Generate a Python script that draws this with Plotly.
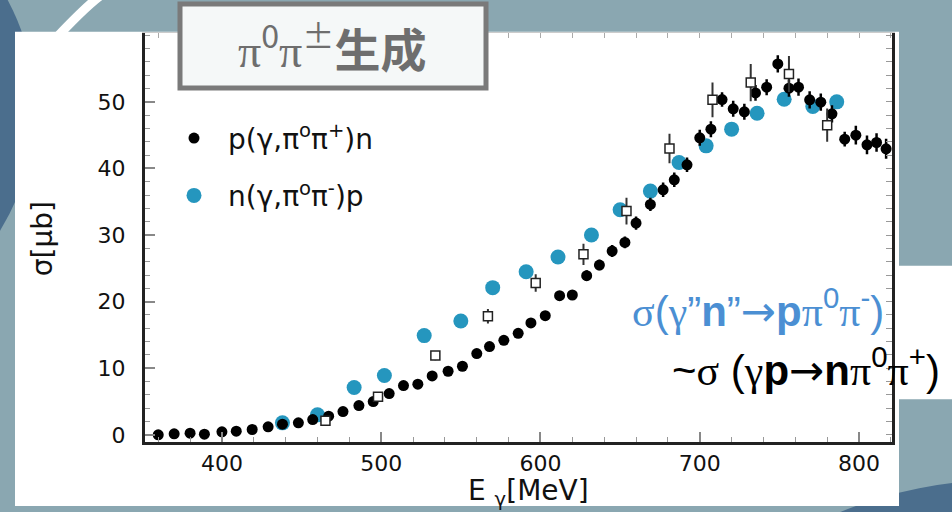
import plotly.graph_objects as go

# ---- data -------------------------------------------------------------
# p(gamma, pi0 pi+) n
black_x = [360, 370, 380, 389, 400, 409, 419, 429, 438, 448, 457, 467, 476, 486,
           495, 505, 514, 523, 532, 542, 551, 560, 568, 577, 586, 594, 603, 612,
           620, 629, 637, 645, 653, 660, 669, 677, 684, 692, 700, 707, 714, 721,
           728, 735, 742, 749, 756, 762, 769, 776, 783, 791, 798, 805, 811, 817]
black_y = [0.0, 0.15, 0.25, 0.1, 0.45, 0.55, 0.8, 1.2, 1.6, 1.8, 2.3, 2.8, 3.5, 4.4,
           5.0, 6.2, 7.4, 7.6, 8.85, 9.55, 10.3, 12.2, 13.25, 14.2, 15.25, 16.8, 17.9, 20.9,
           21.0, 23.9, 25.5, 27.6, 28.9, 31.8, 34.6, 36.8, 38.3, 40.55, 44.6, 45.9, 50.35, 48.96,
           48.5, 51.35, 52.2, 55.7, 52.05, 52.2, 50.3, 49.96, 48.2, 44.4, 45.0, 43.55, 43.9, 42.95]
black_err = [0.2, 0.2, 0.2, 0.2, 0.2, 0.2, 0.2, 0.2, 0.2, 0.2, 0.3, 0.3, 0.3, 0.3,
             0.3, 0.4, 0.4, 0.4, 0.4, 0.4, 0.5, 0.5, 0.5, 0.5, 0.6, 0.6, 0.6, 0.7,
             0.7, 0.8, 0.8, 0.9, 0.9, 1.0, 1.0, 1.1, 1.1, 1.1, 1.2, 1.2, 1.1, 1.2,
             1.2, 1.2, 1.2, 1.3, 1.3, 1.3, 1.3, 1.3, 1.3, 1.1, 1.4, 1.4, 1.4, 1.5]

# n(gamma, pi0 pi-) p
blue_x = [438, 460, 483, 502, 527, 550, 570, 591, 611, 632, 650, 669, 687, 704,
          720, 736, 753, 771, 786]
blue_y = [1.8, 3.0, 7.1, 8.9, 14.9, 17.1, 22.1, 24.5, 26.7, 30.0, 33.8, 36.6, 40.9, 43.4,
          45.9, 48.3, 50.4, 49.3, 50.0]
blue_err = [0.3, 0.3, 0.4, 0.4, 0.4, 0.4, 0.4, 0.4, 0.4, 0.5, 0.6, 0.6, 0.6, 0.6,
            0.7, 0.7, 0.7, 0.7, 0.8]

# older measurement (open squares)
open_x = [465, 498, 534, 567, 597, 627, 654, 681, 708, 732, 756, 780]
open_y = [2.1, 5.7, 11.9, 17.8, 22.8, 27.1, 33.6, 43.0, 50.3, 52.9, 54.2, 46.5]
open_err = [0.3, 0.4, 0.7, 1.1, 1.3, 1.6, 2.0, 2.2, 2.6, 2.8, 2.7, 2.5]

x_ticks = [400, 500, 600, 700, 800]
y_ticks = [0, 10, 20, 30, 40, 50]

W, H = 952, 512
BG = "#8aa7b1"
DARK = "#4b6e8d"
BLUE = "#2596be"


def px(x):
    return x / W


def py(y):
    return 1 - y / H


fig = go.Figure()

fig.add_trace(go.Scatter(
    x=blue_x, y=blue_y, mode="markers", name="n(γ,π<sup>o</sup>π<sup>-</sup>)p",
    legend="legend2",
    marker=dict(symbol="circle", size=15, color=BLUE),
    error_y=dict(type="data", array=blue_err, color=BLUE, thickness=2, width=0),
))
fig.add_trace(go.Scatter(
    x=black_x, y=black_y, mode="markers", name="p(γ,π<sup>o</sup>π<sup>+</sup>)n",
    legend="legend",
    marker=dict(symbol="circle", size=11, color="black"),
    error_y=dict(type="data", array=black_err, color="black", thickness=2.5, width=0),
))
fig.add_trace(go.Scatter(
    x=open_x, y=open_y, mode="markers", showlegend=False,
    marker=dict(symbol="square", size=9, color="white", line=dict(color="#222", width=1.5)),
    error_y=dict(type="data", array=open_err, color="#333", thickness=2, width=0),
))

# dotted zero line
fig.add_hline(y=0, line=dict(color="#222", width=2, dash="2px,11px"), layer="below")


def circle(cx, cy, r, **kw):
    return dict(type="circle", xref="paper", yref="paper",
                x0=px(cx - r), x1=px(cx + r), y0=py(cy + r), y1=py(cy - r),
                layer="below", **kw)


def path(points, **kw):
    (x0, y0), (qx, qy), (x1, y1) = points
    d = f"M {px(x0)} {py(y0)} Q {px(qx)} {py(qy)} {px(x1)} {py(y1)}"
    return dict(type="path", xref="paper", yref="paper", path=d, layer="below", **kw)


shapes = [
    # slide decorations
    circle(-100, -200, 276, fillcolor=DARK, line_width=0),
    circle(-200, 110, 235, fillcolor=DARK, line_width=0),
    path([(100, -4), (84, 8), (50, 45)], line=dict(color="white", width=9)),
    circle(1000, 900, 414, fillcolor=DARK, line_width=0),
    # white chart panel
    dict(type="rect", xref="paper", yref="paper", x0=px(15), x1=px(899),
         y0=0, y1=py(32), fillcolor="white", line_width=0, layer="below"),
    # white box behind the relation text
    dict(type="rect", xref="paper", yref="paper", x0=px(880), x1=1,
         y0=py(404), y1=py(269), fillcolor="white", line_width=0, layer="below"),
    # title box
    dict(type="rect", xref="paper", yref="paper", x0=px(180), x1=px(486),
         y0=py(89), y1=py(4), fillcolor="#f5f8f8", line=dict(color="#7a7a7a", width=5),
         layer="above"),
]

SERIF = "font-family:'Liberation Serif'"
ARROW = "<span style=\"font-family:'DejaVu Sans'\">→</span>"


def g(ch):
    return f"<span style=\"{SERIF}\">{ch}</span>"


def ann(x, y, text, font, **kw):
    d = dict(xref="paper", yref="paper", x=px(x), y=py(y), showarrow=False,
             text=text, font=font, xanchor="center", yanchor="middle")
    d.update(kw)
    return d


annotations = [
    ann(332, 46, f"{g('π')}<sup>0</sup>{g('π')}<sup>±</sup><b>生成</b>",
        dict(family="Noto Sans CJK JP", size=46, color="#6e6e6e")),
    ann(42, 242, "σ[μb]", dict(family="DejaVu Sans", size=28, color="#111"), textangle=-90),
    ann(528, 498, "E <sub>γ</sub>[MeV]", dict(family="DejaVu Sans", size=28, color="#111")),
    ann(758, 312,
        f"{g('σ')}({g('γ')}”<b>n</b>”{ARROW}<b>p</b>{g('π')}<sup>0</sup>{g('π')}<sup>-</sup>)",
        dict(family="Liberation Sans", size=42, color="#4b8fd3")),
    ann(942, 372,
        f"~{g('σ')} ({g('γ')}<b>p</b>{ARROW}<b>n</b>{g('π')}<sup>0</sup>{g('π')}<sup>+</sup>)",
        dict(family="Liberation Sans", size=42, color="black"), xanchor="right"),
]

axis_font = dict(family="DejaVu Sans", size=22, color="#111")
legend_common = dict(bgcolor="rgba(0,0,0,0)", font=dict(family="DejaVu Sans", size=28, color="#111"),
                     xanchor="left", yanchor="middle", itemwidth=58, itemsizing="trace")

fig.update_layout(
    width=W, height=H,
    margin=dict(l=0, r=0, t=0, b=0),
    paper_bgcolor=BG,
    plot_bgcolor="rgba(0,0,0,0)",
    showlegend=True,
    legend=dict(x=px(160), y=py(140), **legend_common),
    legend2=dict(x=px(160), y=py(198), **legend_common),
    shapes=shapes,
    annotations=annotations,
    xaxis=dict(
        domain=[px(145), px(892)], range=[351.7, 820.7],
        tickvals=x_ticks, ticktext=[str(v) for v in x_ticks],
        ticks="inside", ticklen=10, tickwidth=1.5, tickcolor="#888",
        minor=dict(dtick=20, tick0=0, ticks="inside", ticklen=5, tickcolor="#999", tickwidth=1),
        showline=True, linecolor="#222", linewidth=3,
        showgrid=False, zeroline=False, tickfont=axis_font,
        ticklabelstandoff=0,
    ),
    yaxis=dict(
        domain=[py(447), py(33)], range=[-1.04, 60.4],
        tickvals=y_ticks, ticktext=[str(v) for v in y_ticks],
        ticks="inside", ticklen=10, tickwidth=1.5, tickcolor="#888",
        minor=dict(dtick=2, tick0=0, ticks="inside", ticklen=5, tickcolor="#999", tickwidth=1),
        showline=True, linecolor="#222", linewidth=3,
        showgrid=False, zeroline=False, tickfont=axis_font,
        ticklabelstandoff=12,
    ),
    xaxis2=dict(
        overlaying="x", matches="x", side="top", anchor="y2",
        ticks="inside", ticklen=5, tickcolor="#aaa", dtick=20, tick0=0,
        showticklabels=False, showline=True, linecolor="#ccc", linewidth=1,
        showgrid=False, zeroline=False,
    ),
    yaxis2=dict(
        overlaying="y", matches="y", side="right", anchor="x2",
        ticks="inside", ticklen=6, tickcolor="#999", dtick=2, tick0=0,
        showticklabels=False, showline=True, linecolor="#222", linewidth=2.5,
        showgrid=False, zeroline=False,
    ),
)

# invisible trace so the mirrored frame axes are rendered
fig.add_trace(go.Scatter(x=[None], y=[None], xaxis="x2", yaxis="y2", showlegend=False,
                         hoverinfo="skip"))

fig.write_html("out.html")
